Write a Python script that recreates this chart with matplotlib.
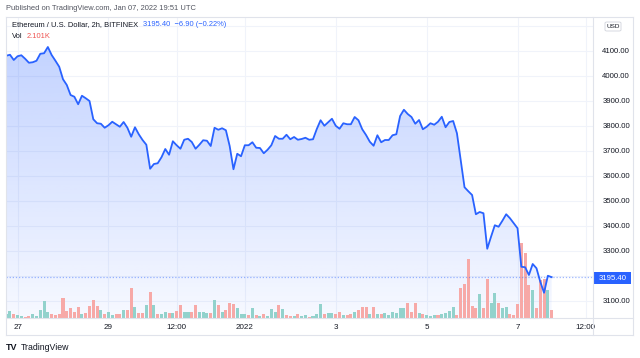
import numpy as np
import pandas as pd
import matplotlib
matplotlib.use("Agg")
import matplotlib.pyplot as plt
import matplotlib.dates as mdates
from matplotlib.lines import Line2D
from matplotlib.patches import Rectangle, FancyBboxPatch, Polygon

plt.rcParams['font.family'] = ['Liberation Sans', 'DejaVu Sans']

# ---------------- data (2h bars, ETH/USD Bitfinex) ----------------
start_time = "2021-12-26 18:00"
price = [4081, 4085, 4064, 4079, 4083, 4069, 4053, 4055, 4061, 4089, 4091, 4116, 4084, 4061, 4037, 3987,
         3964, 3924, 3917, 3887, 3921, 3911, 3900, 3827, 3811, 3809, 3793, 3803, 3817, 3807, 3797, 3816,
         3793, 3757, 3795, 3767,
         3744, 3725, 3629, 3648, 3651, 3675, 3708, 3685, 3739, 3723, 3709, 3745, 3749, 3736, 3709, 3725,
         3743, 3741, 3720, 3793, 3785, 3791, 3783, 3720, 3627, 3689, 3679, 3723, 3723, 3735, 3713, 3712,
         3691, 3705,
         3723, 3760, 3749, 3749, 3765, 3747, 3756, 3745, 3748, 3753, 3745, 3747, 3788, 3823, 3801, 3815,
         3829, 3801, 3789, 3811, 3807, 3807, 3836, 3823, 3787, 3764, 3737, 3721, 3763, 3735, 3744, 3744,
         3763, 3767, 3840, 3865, 3848, 3836, 3809, 3824,
         3787, 3797, 3811, 3805, 3817, 3837, 3795, 3816, 3820, 3771, 3664, 3555, 3539, 3524, 3447, 3456,
         3451, 3309, 3357, 3403, 3397, 3421, 3447, 3431, 3411, 3391, 3237, 3235, 3204, 3248, 3231, 3177,
         3133, 3201, 3195.4]

volume_k = [1.09, 1.95, 1.19, 0.83, 0.58, 0.43, 0.58, 1.19, 0.68, 2.10,
            4.38, 1.59, 1.09, 0.83, 1.01, 5.24, 1.85, 2.53, 1.52, 2.86,
            1.19, 1.34, 3.11, 4.55, 3.11, 2.20, 1.19, 1.52, 0.83, 1.19,
            1.19, 2.02, 2.02, 7.59, 2.96, 1.34, 1.34, 3.29, 6.58, 3.37,
            1.09, 1.01, 1.52, 1.34, 1.34, 1.85, 3.29, 1.59, 1.52, 1.59,
            3.37, 1.70, 1.70, 1.34, 1.34, 4.55, 3.37, 1.70, 2.10, 3.97,
            3.62, 2.71, 1.19, 1.19, 0.76, 2.53, 0.83, 0.68, 1.09, 0.68,
            2.35, 1.70, 3.37, 2.35, 0.83, 0.68, 0.51, 1.19, 0.68, 0.76,
            0.43, 0.68, 1.01, 3.72, 1.19, 1.27, 1.27, 1.09, 1.59, 0.83,
            0.83, 1.01, 1.59, 2.10, 2.86, 2.78, 1.19, 2.78, 1.01, 1.01,
            1.27, 0.83, 1.52, 1.27, 2.61, 2.61, 3.80, 1.59, 3.80, 1.27,
            1.01, 0.76, 0.58, 0.83, 0.94, 1.01, 1.34, 1.95, 2.78, 0.76,
            7.59, 8.68, 15.0, 3.11, 2.71, 6.15, 2.71, 9.87, 3.87, 6.33,
            3.80, 2.71, 2.78, 1.01, 0.83, 3.62, 19.13, 16.6, 8.35, 7.21,
            2.53, 9.61, 9.87, 7.16, 2.101]

volume_dir = ("UUDUUDDUUU" "UUDDDDDDDD" "UDDDDUDUUD" "DUDDUDDUDU" "DUUDUDDUUD"
              "DUUUDUDUDD" "DUUUDUDUDU" "UUDUDDUDUU" "DUUUDUUDDU" "DDUDDDUDUD"
              "UUUUUUDDDU" "DUUUDUUUUD" "DDDDDUDDUU" "DUUDDDDDDU" "DDDUD")

grid_prices = [3100, 3200, 3300, 3400, 3500, 3600, 3700, 3800, 3900, 4000, 4100, 4200]
labeled_prices = [3100, 3300, 3400, 3500, 3600, 3700, 3800, 3900, 4000, 4100]
x_tick_times = ["2021-12-27", "2021-12-29", "2021-12-30 12:00", "2022-01-01",
                "2022-01-03", "2022-01-05", "2022-01-07", "2022-01-08 12:00"]
x_tick_labels = ["27", "29", "12:00", "2022", "3", "5", "7", "12:00"]
last_price = 3195.40
change = -6.90
change_pct = -0.22
last_vol = "2.101K"

# ---------------- figure ----------------
W, H = 640, 358
fig = plt.figure(figsize=(W / 100, H / 100), dpi=100)
fig.patch.set_facecolor('white')

def fx(x):
    return x / W

def fy(y):
    return 1 - y / H

L, R, T, B = 6, 593.3, 17, 318.3
ax = fig.add_axes([fx(L), fy(B), fx(R) - fx(L), fy(T) - fy(B)])
times = pd.date_range(start_time, periods=len(price), freq="2h")
xt = mdates.date2num(times.to_pydatetime())
hour = 1 / 24.0

ymin, ymax = 3030.8, 4236.0
x0 = xt[0] - 0.1 * hour
x1 = mdates.date2num(pd.Timestamp("2022-01-08 16:00").to_pydatetime())
ax.set_xlim(x0, x1)
ax.set_ylim(ymin, ymax)

# grid
for p in grid_prices:
    ax.axhline(p, color='#f0f3fa', lw=0.8, zorder=0)
tick_nums = [mdates.date2num(pd.Timestamp(t).to_pydatetime()) for t in x_tick_times]
for t in tick_nums:
    ax.axvline(t, color='#f0f3fa', lw=0.8, zorder=0)

# gradient area fill
grad = np.linspace(0.28, 0.04, 256).reshape(-1, 1)
rgba = np.zeros((256, 1, 4))
rgba[..., 0] = 41 / 255
rgba[..., 1] = 98 / 255
rgba[..., 2] = 255 / 255
rgba[..., 3] = grad
ytop = max(price)
img = ax.imshow(rgba, extent=[x0, x1, ymin, ytop], aspect='auto', origin='upper', zorder=1)
verts = np.vstack([np.column_stack([xt, price]), [[xt[-1], ymin], [xt[0], ymin]]])
clip = Polygon(verts, closed=True, transform=ax.transData, facecolor='none', edgecolor='none')
ax.add_patch(clip)
img.set_clip_path(clip)

# volume
axv = ax.twinx()
axv.set_ylim(0, 301.3 * 0.2531)
axv.set_xlim(x0, x1)
cols = ['#92d2cc' if d == 'U' else '#f7a9a7' for d in volume_dir]
axv.bar(xt, volume_k, width=1.6 * hour, color=cols, zorder=2, linewidth=0)
axv.axis('off')

# line on top
axl = ax.twinx()
axl.set_ylim(ymin, ymax)
axl.set_xlim(x0, x1)
axl.axis('off')
axl.plot(xt, price, color='#2962ff', lw=1.3, zorder=5, solid_joinstyle='round')
axl.axhline(last_price, color='#2962ff', lw=0.9, ls=(0, (1, 1.5)), alpha=0.45, zorder=4)

# axes ticks
ax.set_yticks(labeled_prices)
ax.set_yticklabels([f"{p:.2f}" for p in labeled_prices])
ax.yaxis.tick_right()
ax.tick_params(axis='y', length=0, pad=6.5, labelsize=5.6, labelcolor='#131722')
ax.set_xticks(tick_nums)
ax.set_xticklabels(x_tick_labels)
ax.tick_params(axis='x', length=0, pad=4.2, labelsize=5.8, labelcolor='#131722')
for s in ax.spines.values():
    s.set_visible(False)

# frame lines
bc = '#e0e3eb'
def hline(y, xa, xb):
    fig.add_artist(Line2D([fx(xa), fx(xb)], [fy(y), fy(y)], color=bc, lw=0.8))
def vline(x, ya, yb):
    fig.add_artist(Line2D([fx(x), fx(x)], [fy(ya), fy(yb)], color=bc, lw=0.8))
hline(17, 6, 633)
hline(318.3, 6, 633)
hline(335, 6, 633)
vline(6, 17, 335)
vline(593.3, 17, 335)
vline(633, 17, 335)

# last price label
fig.add_artist(Rectangle((fx(594), fy(284)), fx(631) - fx(594), fy(272) - fy(284),
                         facecolor='#2962ff', edgecolor='none'))
fig.text(fx(612.5), fy(278), f"{last_price:.2f}", color='white', fontsize=5.6,
         ha='center', va='center')

# USD badge
fig.add_artist(FancyBboxPatch((fx(605), fy(31)), fx(621) - fx(605), fy(22) - fy(31),
                              boxstyle='round,pad=0,rounding_size=0.003',
                              facecolor='white', edgecolor='#d1d4dc', lw=0.6, zorder=10))
fig.text(fx(613), fy(26.5), "USD", fontsize=4.6, color='#131722', ha='center', va='center', zorder=11)

# header texts
fs = 5.45
fig.text(fx(6), fy(8), "Published on TradingView.com, Jan 07, 2022 19:51 UTC",
         fontsize=fs, color='#50535e', ha='left', va='center')
t1 = fig.text(fx(12), fy(25), "Ethereum / U.S. Dollar, 2h, BITFINEX", fontsize=fs,
              color='#131722', ha='left', va='center')
fig.canvas.draw()
bb = t1.get_window_extent()
fig.text(bb.x1 / W + fx(5), fy(25),
         f"{last_price:.2f}  \u2212{abs(change):.2f} (\u2212{abs(change_pct):.2f}%)",
         fontsize=fs, color='#2962ff', ha='left', va='center')
fig.text(fx(12), fy(37), "Vol", fontsize=fs, color='#131722', ha='left', va='center')
fig.text(fx(27), fy(37), last_vol, fontsize=fs, color='#ef5350', ha='left', va='center')

# footer logo
fig.text(fx(6), fy(347.5), "TV", fontsize=6.5, fontweight='bold', color='#131722',
         ha='left', va='center')
fig.text(fx(21), fy(347.5), "TradingView", fontsize=6.3, color='#131722', ha='left', va='center')

fig.savefig("out.png", dpi=100)
